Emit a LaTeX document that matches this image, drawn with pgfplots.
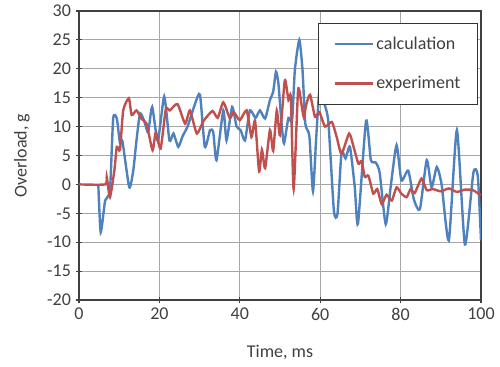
\documentclass[border=0pt]{standalone}
\usepackage{fontspec}
\setmainfont{Carlito}
\usepackage{pgfplots}
\pgfplotsset{compat=1.18}
\definecolor{cblue}{HTML}{4F81BD}
\definecolor{cred}{HTML}{C0504D}
\definecolor{txt}{HTML}{404040}
\begin{document}
\begin{tikzpicture}
\useasboundingbox (-59.25pt,-50.25pt) rectangle (315.75pt,225pt);
\begin{axis}[
  scale only axis, width=301.5pt, height=216.75pt,
  xmin=0, xmax=100, ymin=-20, ymax=30,
  xtick={0,20,...,100}, ytick={-20,-15,...,30},
  grid=major, major grid style={black!35, line width=0.7pt},
  axis line style={black!75, line width=0.9pt},
  tick style={black!75, line width=0.8pt},
  tick align=center, major tick length=5pt, tick pos=left,
  /pgf/number format/assume math mode=true,
  ticklabel style={font=\fontsize{13.5}{16}\selectfont, text=txt},
  xlabel={Time, ms}, ylabel={Overload, g},
  every axis x label/.style={at={(axis description cs:0.5,-0.18)}, anchor=center, font=\fontsize{13.5}{16}\selectfont, text=txt},
  every axis y label/.style={at={(axis description cs:-0.142,0.5)}, anchor=center, rotate=90, font=\fontsize{13.5}{16}\selectfont, text=txt},
  legend style={at={(axis description cs:0.9925,0.9585)}, anchor=north east, draw=black!80,
    font=\fontsize{13.5}{16}\selectfont, text=txt, inner xsep=11pt, inner ysep=8pt, row sep=15pt, fill=white},
  legend cell align=left,
  legend image code/.code={\draw[#1] (0pt,0pt) -- (28.5pt,0pt);},
]
\addplot[cblue, line width=1.8pt, smooth, tension=0.35] coordinates {
(4.8,0) (5.4,-8.3) (6.5,-2.8) (7.7,-1) (8.5,11.4) (9.4,11.4) (10.2,7.1) (10.8,7.5)
(12.5,-0.5) (13.5,2.4) (14.3,7.6) (15.2,12.3) (16.4,10.6) (17.2,9) (18.2,13.4) (19.6,7.5)
(21.2,15.2) (22.5,7.6) (23.5,8.8) (24.7,6.5) (25.8,8.4) (27,10) (28.9,14) (30.1,15.5)
(31.3,6.5) (32.6,9.4) (33.4,9) (34.2,4.2) (35.9,12.8) (36.7,7.6) (38.1,13.4) (39.2,10)
(40.2,9.4) (41.3,7.6) (42.5,12.8) (43.9,11.5) (45,12.8) (46.3,11.4) (47.5,14.6) (48.3,16)
(49,19.5) (49.6,17.5) (50.4,10.5) (51,7.1) (52.1,11.5) (53,11) (53.7,19.8) (54.8,25)
(55.6,19.8) (56.3,10.5) (57.3,8.4) (58.2,-1.2) (59,8) (59.8,16.3) (60.7,14.6) (62,11)
(63.4,-4.5) (64.3,-5.1) (65.3,5.5) (66.3,4.5) (67.4,6.5) (68.6,-0.5) (69.4,-6.8) (71.4,11)
(72.6,4.2) (73.8,3.8) (74.8,2) (76.3,-6.9) (77.6,0) (79,6.8) (80.2,0.7) (81.9,2.4) (83.3,-2.6)
(84.8,-4.3) (86.5,4.2) (87.7,-0.5) (89,3) (90.2,0) (92,-9.7) (94,9.4) (96,-10.4)
(98.1,2) (99.2,1.5) (100,-9.7)
};
\addlegendentry{calculation}
\addplot[cred, line width=1.8pt, smooth, tension=0.35] coordinates {
(0,0) (6.5,0) (6.9,1.3) (7.7,-2.2) (8.8,2.4) (9.4,6.5) (10.2,6) (11,12.8) (12.4,14.9)
(13.1,12) (14.3,12.8) (15.6,11.3) (16.8,10.5) (18.3,5.9) (19.1,9) (20.3,6.2) (21.6,13)
(22.6,12.8) (24.5,13.9) (26.4,10.5) (27.6,12.8) (29.3,8.8) (31,11) (33.2,12.7) (34.5,11.5)
(35.9,14.2) (37.5,11.5) (38.5,12.5) (40,11.1) (41.7,12.8) (42.9,8.2) (43.8,11) (44.8,2.2)
(45.5,6) (46.3,2.8) (47.5,9.4) (48.3,5.8) (49.2,12.8) (50,8.5) (51.2,18)
(52.1,14.6) (52.7,15) (53.4,-0.8) (54.5,16.3) (55.3,14) (55.9,11.7) (56.6,14) (57.5,15.5)
(58.7,11.7) (59.8,12.5) (61.2,10) (62.9,10.8) (64.1,8.2) (65.3,5.3) (67.2,8.8)
(68.3,6.5) (69.5,3.6) (70.3,4) (71.1,1.3) (72,1.5) (73.2,-1.6) (74.2,-0.8) (75.3,-3.4)
(76.5,-1.8) (77.8,-2.8) (79,-0.5) (80.2,-1.6) (81.5,-2.2) (82.5,-0.8) (83.5,-1.5)
(85.2,1) (86.5,-1) (88,-0.8) (90,-1.2) (92,-0.7) (94,-1.3) (96,-0.9) (98,-1) (100,-1.9)
};
\addlegendentry{experiment}
\end{axis}
\end{tikzpicture}
\end{document}
